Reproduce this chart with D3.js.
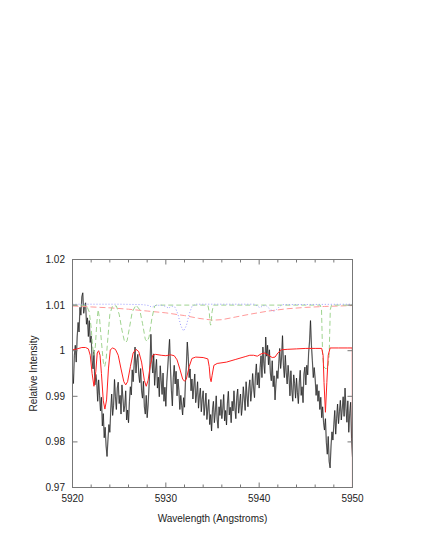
<!DOCTYPE html>
<html>
<head>
<meta charset="utf-8">
<script src="https://cdn.jsdelivr.net/npm/d3@7"></script>
<style>
  body { margin: 0; background: #fff; }
  text { font-family: "Liberation Sans", Arial, sans-serif; font-size: 10px; fill: #222; }
</style>
</head>
<body>
<div id="chart"></div>
<script>
// Axis ticks
const xTicks = [5920, 5930, 5940, 5950];
const yTicks = [0.97, 0.98, 0.99, 1.00, 1.01, 1.02];
const yTickLabels = ["0.97", "0.98", "0.99", "1", "1.01", "1.02"];

// Observed spectrum, one value every 0.1 Angstrom from 5920.0 to 5950.0
const specStart = 5920.0;
const specStep = 0.1;
const spectrum = [
  0.9950, 0.9928, 0.9990, 1.0012, 0.9975, 1.0030, 1.0062, 1.0041, 1.0095, 1.0078,
  1.0118, 1.0127, 1.0082, 1.0096, 1.0105, 1.0058, 1.0072, 1.0031, 1.0066, 1.0018,
  1.0032, 0.9978, 0.9960, 1.0001, 0.9925, 0.9948, 0.9931, 0.9889, 0.9936, 0.9902,
  0.9868, 0.9898, 0.9835, 0.9862, 0.9809, 0.9832, 0.9791, 0.9768, 0.9805, 0.9838,
  0.9821, 0.9872, 0.9905, 0.9858, 0.9880, 0.9937, 0.9899, 0.9871, 0.9918, 0.9931,
  0.9884, 0.9902, 0.9861, 0.9925, 0.9897, 0.9866, 0.9879, 0.9912, 0.9848, 0.9870,
  0.9842, 0.9889, 0.9921, 0.9903, 0.9958, 0.9932, 0.9968, 1.0008, 0.9951, 0.9979,
  0.9992, 0.9948, 0.9930, 0.9961, 0.9912, 0.9896, 0.9933, 0.9877, 0.9861, 0.9902,
  0.9853, 0.9881, 0.9922, 0.9968, 1.0036, 0.9979, 0.9951, 0.9993, 0.9924, 0.9957,
  0.9981, 0.9918, 0.9942, 0.9899, 0.9967, 0.9935, 0.9904, 0.9951, 0.9889, 0.9920,
  0.9878, 0.9931, 0.9962, 0.9995, 1.0025, 0.9960, 0.9912, 0.9879, 0.9941, 0.9968,
  0.9927, 0.9955, 0.9901, 0.9938, 0.9913, 0.9871, 0.9902, 0.9880, 0.9859, 0.9897,
  0.9876, 0.9931, 0.9968, 1.0019, 0.9987, 0.9941, 0.9960, 0.9912, 0.9938, 0.9894,
  0.9923, 0.9949, 0.9886, 0.9905, 0.9932, 0.9874, 0.9901, 0.9918, 0.9866, 0.9893,
  0.9912, 0.9858, 0.9881, 0.9907, 0.9849, 0.9872, 0.9893, 0.9838, 0.9860, 0.9824,
  0.9871, 0.9889, 0.9842, 0.9865, 0.9901, 0.9849, 0.9830, 0.9877, 0.9858, 0.9893,
  0.9851, 0.9872, 0.9904, 0.9846, 0.9869, 0.9837, 0.9885, 0.9911, 0.9859, 0.9876,
  0.9842, 0.9889, 0.9868, 0.9912, 0.9875, 0.9851, 0.9898, 0.9916, 0.9863, 0.9884,
  0.9905, 0.9858, 0.9879, 0.9921, 0.9896, 0.9869, 0.9932, 0.9901, 0.9877, 0.9918,
  0.9936, 0.9889, 0.9912, 0.9950, 0.9918, 0.9897, 0.9946, 0.9971, 0.9925, 0.9952,
  0.9918, 0.9963, 0.9989, 0.9941, 1.0008, 0.9972, 0.9950, 1.0030, 0.9988, 1.0012,
  0.9969, 1.0002, 0.9951, 0.9934, 0.9978, 0.9921, 0.9945, 0.9892, 0.9928, 0.9956,
  0.9939, 0.9972, 1.0005, 0.9961, 0.9984, 1.0033, 0.9968, 0.9941, 0.9990, 0.9952,
  0.9927, 0.9968, 0.9942, 0.9901, 0.9956, 0.9913, 0.9889, 0.9947, 0.9928, 0.9896,
  0.9940, 0.9908, 0.9884, 0.9931, 0.9957, 0.9902, 0.9921, 0.9886, 0.9949, 0.9964,
  0.9925, 0.9968, 0.9947, 0.9995, 1.0021, 1.0066, 1.0012, 0.9978, 0.9941, 0.9963,
  0.9938, 0.9902, 0.9926, 0.9889, 0.9912, 0.9871, 0.9898, 0.9853, 0.9877, 0.9842,
  0.9826, 0.9851, 0.9798, 0.9773, 0.9812, 0.9757, 0.9743, 0.9791, 0.9822, 0.9804,
  0.9838, 0.9869, 0.9817, 0.9852, 0.9883, 0.9840, 0.9866, 0.9891, 0.9848, 0.9872,
  0.9899, 0.9856, 0.9918, 0.9874, 0.9843, 0.9890, 0.9821, 0.9862, 0.9887, 0.9808,
  0.9767
];

// Total model (red solid), [wavelength, intensity]
const totalModel = [
  [5920.0, 1.0002], [5920.5, 1.0004], [5921.0, 1.0007], [5921.4, 1.0007], [5921.7, 1.0004],
  [5921.9, 0.9990], [5922.1, 0.9950], [5922.3, 0.9922], [5922.5, 0.9955], [5922.65, 0.9995],
  [5922.8, 1.0000], [5922.95, 0.9990], [5923.1, 0.9950], [5923.3, 0.9890], [5923.47, 0.9872],
  [5923.65, 0.9892], [5923.85, 0.9960], [5924.05, 1.0002], [5924.3, 1.0006], [5924.6, 1.0003],
  [5924.9, 0.9990], [5925.2, 0.9960], [5925.5, 0.9932], [5925.7, 0.9925], [5925.9, 0.9932],
  [5926.2, 0.9965], [5926.5, 0.9995], [5926.8, 1.0003], [5927.1, 0.9998], [5927.4, 0.9975],
  [5927.7, 0.9935], [5927.9, 0.9922], [5928.1, 0.9935], [5928.35, 0.9970], [5928.6, 0.9990],
  [5928.9, 0.9992], [5929.5, 0.9990], [5930.0, 0.9989], [5930.5, 0.9991], [5930.9, 0.9989],
  [5931.2, 0.9980], [5931.5, 0.9960], [5931.8, 0.9938], [5932.0, 0.9933], [5932.2, 0.9938],
  [5932.5, 0.9965], [5932.8, 0.9983], [5933.2, 0.9986], [5934.0, 0.9985], [5934.5, 0.9982],
  [5934.65, 0.9965], [5934.75, 0.9940], [5934.85, 0.9932], [5934.95, 0.9945], [5935.15, 0.9968],
  [5935.5, 0.9972], [5936.5, 0.9975], [5937.5, 0.9981], [5938.5, 0.9987], [5939.0, 0.9990],
  [5939.4, 0.9990], [5939.8, 0.9988], [5940.2, 0.9993], [5940.6, 0.9995], [5941.0, 0.9990],
  [5941.4, 0.9985], [5941.7, 0.9986], [5942.0, 0.9995], [5942.4, 1.0002], [5943.0, 1.0003],
  [5944.0, 1.0004], [5945.0, 1.0005], [5946.0, 1.0005], [5946.7, 1.0005], [5946.85, 0.9990],
  [5946.95, 0.9930], [5947.1, 0.9865], [5947.25, 0.9930], [5947.4, 0.9990], [5947.6, 1.0006],
  [5948.5, 1.0006], [5949.5, 1.0006], [5949.98, 1.0006], [5950.0, 0.9600]
];

// Line component (green dashed)
const lineModel = [
  [5920.0, 1.0100], [5921.0, 1.0100], [5921.5, 1.0099], [5921.8, 1.0085], [5922.0, 1.0050],
  [5922.15, 1.0010], [5922.3, 0.9990], [5922.45, 1.0010], [5922.6, 1.0060], [5922.75, 1.0090],
  [5922.9, 1.0070], [5923.1, 1.0020], [5923.3, 0.9975], [5923.45, 0.9965], [5923.6, 0.9980],
  [5923.8, 1.0030], [5924.0, 1.0080], [5924.3, 1.0099], [5924.7, 1.0098], [5925.0, 1.0080],
  [5925.3, 1.0045], [5925.55, 1.0022], [5925.7, 1.0018], [5925.85, 1.0022], [5926.1, 1.0050],
  [5926.4, 1.0085], [5926.8, 1.0100], [5927.2, 1.0090], [5927.5, 1.0060], [5927.8, 1.0025],
  [5928.0, 1.0020], [5928.2, 1.0030], [5928.5, 1.0070], [5928.8, 1.0098], [5929.0, 1.0100],
  [5934.5, 1.0100], [5934.65, 1.0085], [5934.75, 1.0060], [5934.8, 1.0056], [5934.85, 1.0060],
  [5934.95, 1.0085], [5935.1, 1.0100], [5946.55, 1.0100], [5946.68, 1.0090], [5946.74, 1.0040],
  [5946.8, 0.9990], [5946.92, 0.9965], [5947.15, 0.9960], [5947.38, 0.9965], [5947.5, 0.9990],
  [5947.56, 1.0040], [5947.62, 1.0090], [5947.75, 1.0100], [5950.0, 1.0100]
];

// Second component (blue dotted)
const blendModel = [
  [5920.0, 1.0102], [5925.0, 1.0102], [5927.5, 1.0101], [5928.2, 1.0099], [5928.5, 1.0095],
  [5928.8, 1.0099], [5929.5, 1.0100], [5930.0, 1.0097], [5930.3, 1.0093], [5930.6, 1.0098],
  [5931.0, 1.0095], [5931.3, 1.0080], [5931.6, 1.0055], [5931.9, 1.0043], [5932.2, 1.0055],
  [5932.5, 1.0080], [5932.8, 1.0097], [5933.2, 1.0102], [5939.5, 1.0102], [5939.8, 1.0098],
  [5940.1, 1.0094], [5940.4, 1.0099], [5940.8, 1.0098], [5941.2, 1.0090], [5941.6, 1.0086],
  [5942.0, 1.0093], [5942.4, 1.0101], [5950.0, 1.0102]
];

// Continuum trend (salmon dashed)
const continuum = [
  [5920.0, 1.0098], [5922.0, 1.0096], [5924.0, 1.0094], [5926.0, 1.0091], [5928.0, 1.0087],
  [5930.0, 1.0083], [5932.0, 1.0077], [5933.5, 1.0071], [5935.0, 1.0067], [5936.0, 1.0068],
  [5937.5, 1.0074], [5939.0, 1.0080], [5941.0, 1.0087], [5943.0, 1.0092], [5945.0, 1.0095],
  [5947.0, 1.0097], [5950.0, 1.0099]
];

const margin = { top: 259.5, left: 72.5 };
const width = 280;
const height = 228;

const svg = d3.select("#chart")
  .append("svg")
  .attr("width", 425)
  .attr("height", 550);

const g = svg.append("g")
  .attr("transform", "translate(" + margin.left + "," + margin.top + ")");

const x = d3.scaleLinear().domain([5920, 5950]).range([0, width]);
const y = d3.scaleLinear().domain([0.97, 1.02]).range([height, 0]);

g.append("clipPath").attr("id", "plotclip")
  .append("rect").attr("width", width).attr("height", height);

const plot = g.append("g").attr("clip-path", "url(#plotclip)");

const line = d3.line().x(d => x(d[0])).y(d => y(d[1]));
const specPoints = spectrum.map((v, i) => [specStart + i * specStep, v]);

// spectrum: grey halo then black core
plot.append("path").datum(specPoints).attr("d", line)
  .attr("fill", "none").attr("stroke", "#b4b4b4").attr("stroke-width", 1.3);
plot.append("path").datum(specPoints).attr("d", line)
  .attr("fill", "none").attr("stroke", "#000").attr("stroke-width", 0.55);

plot.append("path").datum(continuum).attr("d", line)
  .attr("fill", "none").attr("stroke", "#ff9a9a").attr("stroke-width", 1)
  .attr("stroke-dasharray", "6,3");

plot.append("path").datum(lineModel).attr("d", line)
  .attr("fill", "none").attr("stroke", "#9fd38f").attr("stroke-width", 1)
  .attr("stroke-dasharray", "5,3");

plot.append("path").datum(blendModel).attr("d", line)
  .attr("fill", "none").attr("stroke", "#9a9aff").attr("stroke-width", 1)
  .attr("stroke-dasharray", "1,2");

plot.append("path").datum(totalModel).attr("d", line)
  .attr("fill", "none").attr("stroke", "#ff2020").attr("stroke-width", 1);

// frame
g.append("rect").attr("width", width).attr("height", height)
  .attr("fill", "none").attr("stroke", "#777").attr("stroke-width", 1);

// ticks, drawn inward on all four sides
const xMinor = d3.range(5920, 5951, 2);
const tickColor = "#777";
xMinor.forEach(v => {
  const major = xTicks.includes(v);
  const len = major ? 5 : 3;
  g.append("line").attr("x1", x(v)).attr("x2", x(v)).attr("y1", height).attr("y2", height - len)
    .attr("stroke", tickColor);
  g.append("line").attr("x1", x(v)).attr("x2", x(v)).attr("y1", 0).attr("y2", len)
    .attr("stroke", tickColor);
});
yTicks.forEach(v => {
  g.append("line").attr("x1", 0).attr("x2", 5).attr("y1", y(v)).attr("y2", y(v)).attr("stroke", tickColor);
  g.append("line").attr("x1", width).attr("x2", width - 5).attr("y1", y(v)).attr("y2", y(v)).attr("stroke", tickColor);
});

// tick labels
xTicks.forEach(v => {
  g.append("text").attr("x", x(v)).attr("y", height + 14)
    .attr("text-anchor", "middle").text(v);
});
yTicks.forEach((v, i) => {
  g.append("text").attr("x", -7.5).attr("y", y(v)).attr("dy", "0.35em")
    .attr("text-anchor", "end").text(yTickLabels[i]);
});

// axis titles
g.append("text").attr("x", width / 2).attr("y", height + 34.5)
  .attr("text-anchor", "middle").text("Wavelength (Angstroms)");

g.append("text")
  .attr("transform", "translate(" + (-36) + "," + (height / 2) + ") rotate(-90)")
  .attr("text-anchor", "middle").text("Relative Intensity");
</script>
</body>
</html>
